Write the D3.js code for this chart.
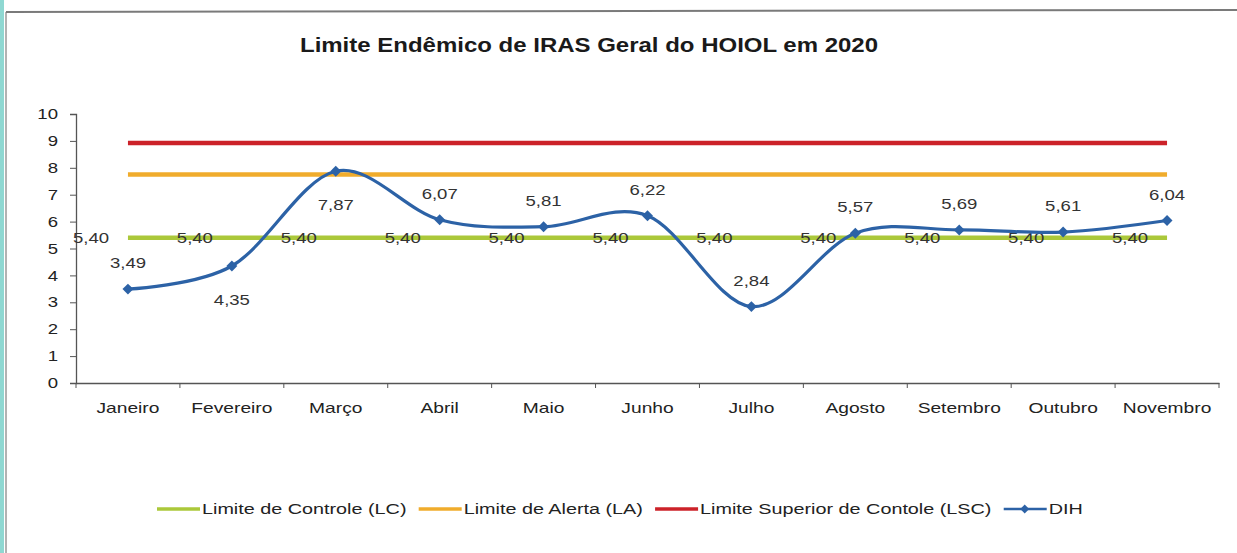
<!DOCTYPE html>
<html><head><meta charset="utf-8">
<script src="https://cdn.jsdelivr.net/npm/d3@7/dist/d3.min.js"></script>
<style>
html,body{margin:0;padding:0;background:#fff;}
svg{display:block;font-family:"Liberation Sans",Arial,sans-serif;}
</style></head>
<body>
<svg id="chart" width="1237" height="553"></svg>
<script>
const months = ["Janeiro","Fevereiro","Março","Abril","Maio","Junho","Julho","Agosto","Setembro","Outubro","Novembro"];
const dih = [3.49,4.35,7.87,6.07,5.81,6.22,2.84,5.57,5.69,5.61,6.04];
const lc = [5.40,5.40,5.40,5.40,5.40,5.40,5.40,5.40,5.40,5.40,5.40];
const la = [7.75,7.75,7.75,7.75,7.75,7.75,7.75,7.75,7.75,7.75,7.75];
const lsc = [8.92,8.92,8.92,8.92,8.92,8.92,8.92,8.92,8.92,8.92,8.92];
// label position for DIH values: 1 = above, -1 = below
const dihLabelSide = [1,-1,-1,1,1,1,1,1,1,1,1];
const yTicks = [0,1,2,3,4,5,6,7,8,9,10];
const title = "Limite Endêmico de IRAS Geral do HOIOL em 2020";
const legendNames = ["Limite de Controle (LC)","Limite de Alerta (LA)","Limite Superior de Contole (LSC)","DIH"];

const colors = {lc:"#abc83a", la:"#f0ac2c", lsc:"#cc2229", dih:"#2c62a6"};
const fmt = v => v.toFixed(2).replace(".", ",");
const SX = 1.28; // horizontal stretch of the text in the reference

const svg = d3.select("#chart");

function stretch(sel, sx){
  sel.each(function(){
    const t = d3.select(this);
    const x0 = +t.attr("x") || 0, y0 = +t.attr("y") || 0;
    t.attr("x",0).attr("y",0).attr("transform",`translate(${x0},${y0}) scale(${sx},1)`);
  });
}

// frame
svg.append("rect").attr("x",0).attr("y",0).attr("width",4).attr("height",553).attr("fill","#8fd8d2");
svg.append("line").attr("x1",6).attr("x2",6).attr("y1",12).attr("y2",553).attr("stroke","#9a9a9a").attr("stroke-width",1.5);
svg.append("line").attr("x1",6).attr("x2",1237).attr("y1",12).attr("y2",10).attr("stroke","#7a7a7a").attr("stroke-width",2);

const x = d3.scaleBand().domain(months).range([76,1219]).padding(0);
const cx = m => x(m) + x.bandwidth()/2;
const y = d3.scaleLinear().domain([0,10]).range([383,114]);

// title
const tt = svg.append("text").attr("x",589).attr("y",52).attr("text-anchor","middle")
  .attr("font-size",20).attr("font-weight","bold").attr("fill","#1a1a1a").text(title);
stretch(tt, 1.2);

// y axis
const yAxis = svg.append("g").attr("transform","translate(76,0)")
  .call(d3.axisLeft(y).tickValues(yTicks).tickSize(6).tickPadding(12).tickFormat(d3.format("d")));
yAxis.select(".domain").attr("stroke","#555").attr("stroke-width",1.3);
yAxis.selectAll(".tick line").attr("stroke","#555");
yAxis.selectAll("text").attr("font-size",14.5).attr("fill","#222").attr("font-family","Liberation Sans, Arial");
stretch(yAxis.selectAll("text"), SX);

// x axis
const xAxis = svg.append("g").attr("transform","translate(0,383)")
  .call(d3.axisBottom(x).tickSize(0).tickPadding(19));
xAxis.select(".domain").attr("stroke","#555").attr("stroke-width",1.5);
xAxis.selectAll("text").attr("font-size",15).attr("fill","#222").attr("font-family","Liberation Sans, Arial");
stretch(xAxis.selectAll("text"), SX);
const bounds = months.map(m => x(m)).concat([x(months[months.length-1]) + x.bandwidth()]);
xAxis.selectAll(".bound").data(bounds).enter().append("line")
  .attr("x1",d=>d).attr("x2",d=>d).attr("y1",0).attr("y2",5).attr("stroke","#555").attr("stroke-width",1);

// limit lines
const straight = d3.line().x((d,i)=>cx(months[i])).y(d=>y(d));
[[lsc,colors.lsc],[la,colors.la],[lc,colors.lc]].forEach(([arr,c])=>{
  svg.append("path").attr("d",straight(arr)).attr("fill","none").attr("stroke",c).attr("stroke-width",4.5);
});

// LC labels
const lcl = svg.selectAll(".lcl").data(lc).enter().append("text")
  .attr("x",(d,i)=>cx(months[i])-37).attr("y",(d)=>y(d)+5.5)
  .attr("text-anchor","middle").attr("font-size",14.5).attr("fill","#333").text(d=>fmt(d));
stretch(lcl, SX);

// DIH line
const smooth = d3.line().x((d,i)=>cx(months[i])).y(d=>y(d)).curve(d3.curveCardinal.tension(0));
svg.append("path").attr("d",smooth(dih)).attr("fill","none").attr("stroke",colors.dih).attr("stroke-width",3.2);
const sqDiamond = {draw(ctx, size){ const r = Math.sqrt(size/2); ctx.moveTo(0,-r); ctx.lineTo(r,0); ctx.lineTo(0,r); ctx.lineTo(-r,0); ctx.closePath(); }};
const diamond = d3.symbol().type(sqDiamond).size(60);
svg.selectAll(".mk").data(dih).enter().append("path")
  .attr("d",diamond).attr("transform",(d,i)=>`translate(${cx(months[i])},${y(d)})`).attr("fill",colors.dih);

// DIH labels
const dl = svg.selectAll(".dl").data(dih).enter().append("text")
  .attr("x",(d,i)=>cx(months[i])).attr("y",(d,i)=> dihLabelSide[i]>0 ? y(d)-21 : y(d)+39)
  .attr("text-anchor","middle").attr("font-size",14.5).attr("fill","#333").text(d=>fmt(d));
stretch(dl, SX);

// legend (laid out sequentially)
const legendColors = [colors.lc, colors.la, colors.lsc, colors.dih];
const LSX = 1.32;
const lg = svg.append("g").attr("transform","translate(0,509)");
let lx = 157;
legendNames.forEach((n,i)=>{
  lg.append("line").attr("x1",lx).attr("x2",lx+43).attr("y1",0).attr("y2",0)
    .attr("stroke",legendColors[i]).attr("stroke-width",i===3?2.5:3.5);
  if(i===3) lg.append("path").attr("d",d3.symbol().type(sqDiamond).size(40)).attr("transform",`translate(${lx+21},0)`).attr("fill",legendColors[i]);
  const t = lg.append("text").attr("x",lx+45).attr("y",5).attr("font-size",15).attr("fill","#222").text(n);
  const w = t.node().getComputedTextLength()*LSX;
  stretch(t, LSX);
  lx += 45 + w + 12;
});
</script>
</body></html>
